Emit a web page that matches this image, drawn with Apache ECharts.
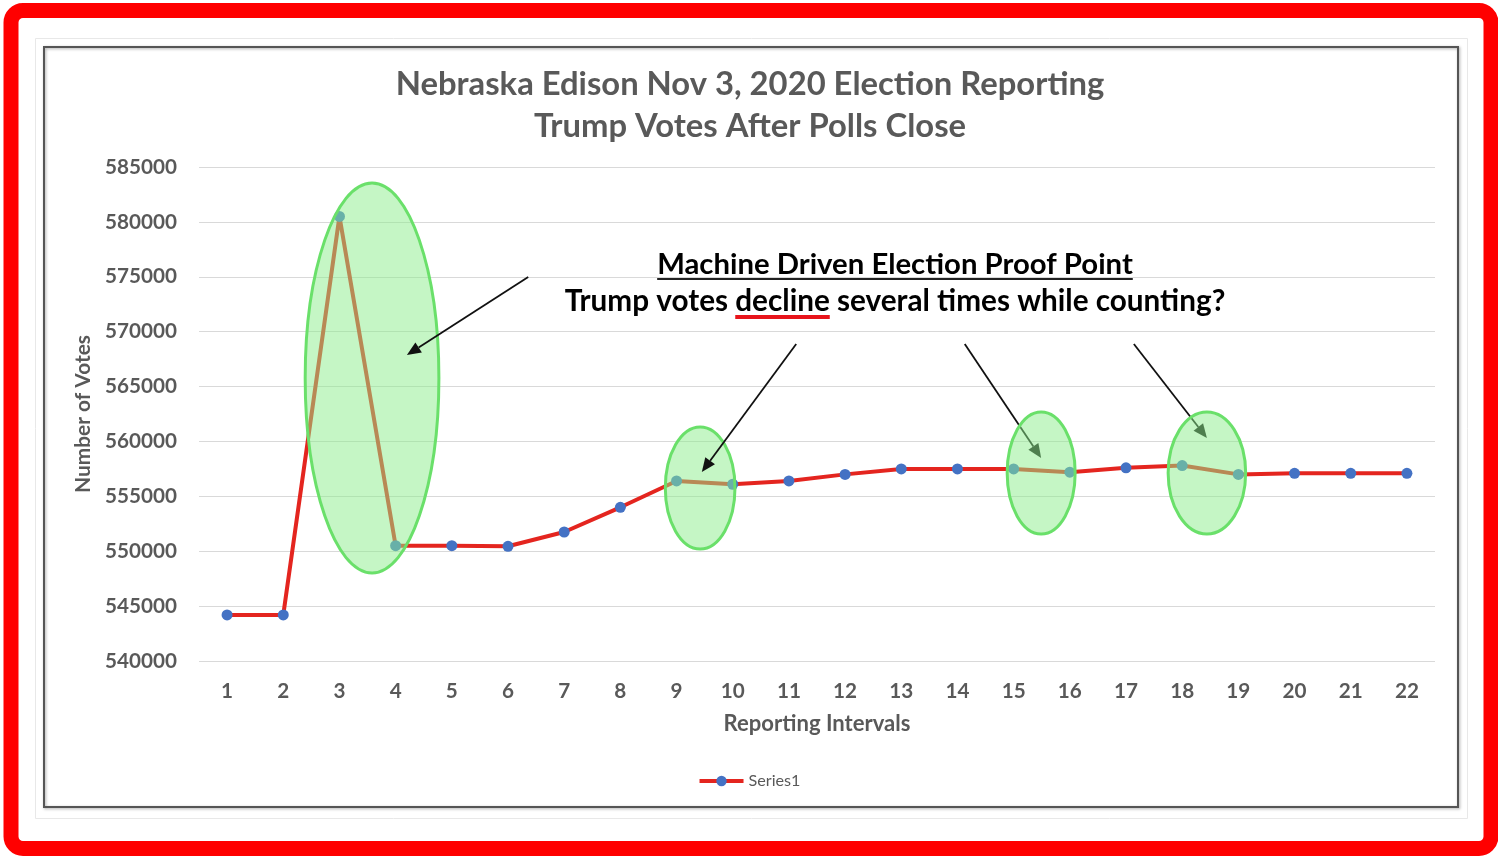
<!DOCTYPE html>
<html>
<head>
<meta charset="utf-8">
<script src="https://cdn.jsdelivr.net/npm/echarts@6/dist/echarts.min.js"></script>
<style>
html,body{margin:0;padding:0;background:#fff;}
#chart{width:1498px;height:859px;}
</style>
</head>
<body>
<div id="chart"></div>
<script>
// ---- data ----
const categories = ['1','2','3','4','5','6','7','8','9','10','11','12','13','14','15','16','17','18','19','20','21','22'];
const votes = [544200,544200,580500,550500,550500,550450,551750,554000,556400,556100,556400,557000,557500,557500,557500,557200,557600,557800,557000,557100,557100,557100];
const yMin = 540000, yMax = 585000, yStep = 5000;
const titleLines = ['Nebraska Edison Nov 3, 2020 Election Reporting', 'Trump Votes After Polls Close'];
const noteLine1 = 'Machine Driven Election Proof Point';
const noteLine2a = 'Trump votes ', noteLine2b = 'decline', noteLine2c = ' several times while counting?';
// annotation ellipses: [category index, value, radius in categories, radius in votes]
const ellipses = [[2.58,565780,1.19,17760],[8.42,555760,0.62,5560],[14.49,557125,0.605,5560],[17.44,557125,0.69,5560]];
// arrows: [from idx, from value, to idx, to value]
const arrows = [[5.36,574980,3.20,567870],[10.13,568880,8.45,557220],[13.13,568880,14.49,558490],[16.14,568880,17.44,560310]];

const FONT = 'Lato';
const cv = document.createElement('canvas').getContext('2d');
function fit(text, weight, target){ cv.font = weight + ' 100px ' + FONT; return 100 * target / cv.measureText(text).width; }
function measure(text, weight, size){ cv.font = weight + ' ' + size + 'px ' + FONT; return cv.measureText(text).width; }

const titleSize = fit(titleLines[0], 'bold', 709);
const yLabSize = fit('585000', 'bold', 72);
const xNameSize = fit('Reporting Intervals', 'bold', 187);
const yNameSize = fit('Number of Votes', 'bold', 158);
const legSize = fit('Series1', 'normal', 52);
const note1Size = fit(noteLine1, 'bold', 476);
const note2Size = fit(noteLine2a + noteLine2b + noteLine2c, 'bold', 661);

const chart = echarts.init(document.getElementById('chart'));
const gray = '#595959';
chart.setOption({
  animation: false,
  backgroundColor: '#fff',
  grid: { left: 199, right: 63, top: 167, bottom: 198 },
  legend: {
    bottom: 65, left: 'center', itemWidth: 44, itemHeight: 13, itemGap: 4,
    textStyle: { fontFamily: FONT, fontSize: legSize, color: gray },
    lineStyle: { width: 4 },
    data: ['Series1']
  },
  xAxis: {
    type: 'category', data: categories, boundaryGap: true,
    name: 'Reporting Intervals', nameLocation: 'middle', nameGap: 52,
    nameTextStyle: { fontFamily: FONT, fontWeight: 'bold', fontSize: xNameSize, color: gray },
    axisLine: { show: false }, axisTick: { show: false },
    axisLabel: { fontFamily: FONT, fontWeight: 'bold', fontSize: yLabSize, color: gray, margin: 20 }
  },
  yAxis: {
    type: 'value', min: yMin, max: yMax, interval: yStep,
    name: 'Number of Votes', nameLocation: 'middle', nameGap: 104,
    nameTextStyle: { fontFamily: FONT, fontWeight: 'bold', fontSize: yNameSize, color: gray },
    axisLine: { show: false }, axisTick: { show: false },
    axisLabel: { fontFamily: FONT, fontWeight: 'bold', fontSize: yLabSize, color: gray, margin: 22, formatter: v => String(v) },
    splitLine: { lineStyle: { color: '#d9d9d9', width: 1 } }
  },
  series: [{
    name: 'Series1', type: 'line', data: votes,
    symbol: 'circle', symbolSize: 11,
    lineStyle: { color: '#e4251f', width: 4 },
    itemStyle: { color: '#4472c4' },
    z: 2
  }]
});

function toPx(idx, val){
  const x0 = chart.convertToPixel({xAxisIndex:0}, 0);
  const x1 = chart.convertToPixel({xAxisIndex:0}, 1);
  return [x0 + (x1 - x0) * idx, chart.convertToPixel({yAxisIndex:0}, val)];
}
function yUnitsPx(dv){ return Math.abs(chart.convertToPixel({yAxisIndex:0}, yMin) - chart.convertToPixel({yAxisIndex:0}, yMin + dv)); }
function xUnitsPx(di){ return Math.abs(chart.convertToPixel({xAxisIndex:0}, 1) - chart.convertToPixel({xAxisIndex:0}, 0)) * di; }

const els = [];
// frames
els.push({ type:'rect', z:0, shape:{x:11,y:10.5,width:1480,height:838,r:12}, style:{fill:null, stroke:'#ff0000', lineWidth:15} });
els.push({ type:'rect', z:0, shape:{x:35.5,y:38.5,width:1432,height:780}, style:{fill:null, stroke:'#e8e8e8', lineWidth:1} });
els.push({ type:'rect', z:0, shape:{x:44,y:47,width:1414,height:760}, style:{fill:null, stroke:'#555', lineWidth:2, shadowBlur:3, shadowColor:'rgba(0,0,0,0.35)', shadowOffsetX:1, shadowOffsetY:1} });

// title
const titleX = 750;
els.push({ type:'text', z:30, style:{ text:titleLines[0], x:titleX, y:84, textAlign:'center', textVerticalAlign:'middle', font:'bold '+titleSize+'px '+FONT, fill:gray } });
els.push({ type:'text', z:30, style:{ text:titleLines[1], x:titleX, y:126, textAlign:'center', textVerticalAlign:'middle', font:'bold '+titleSize+'px '+FONT, fill:gray } });

function arrow(a, z){
  const p = toPx(a[0], a[1]), q = toPx(a[2], a[3]);
  const dx = q[0]-p[0], dy = q[1]-p[1], L = Math.hypot(dx,dy), ux = dx/L, uy = dy/L;
  const hl = 14, hw = 6;
  const bx = q[0]-ux*hl, by = q[1]-uy*hl;
  els.push({ type:'line', z:z, shape:{x1:p[0],y1:p[1],x2:bx,y2:by}, style:{stroke:'#111', lineWidth:1.8} });
  els.push({ type:'polygon', z:z, shape:{points:[[q[0],q[1]],[bx-uy*hw,by+ux*hw],[bx+uy*hw,by-ux*hw]]}, style:{fill:'#111'} });
}
arrow(arrows[2], 5); arrow(arrows[3], 5);
ellipses.forEach(e => {
  const c = toPx(e[0], e[1]);
  els.push({ type:'ellipse', z:10, shape:{cx:c[0], cy:c[1], rx:xUnitsPx(e[2]), ry:yUnitsPx(e[3])},
    style:{ fill:'rgba(140,238,140,0.5)', stroke:'#6ae06a', lineWidth:3 } });
});
arrow(arrows[0], 20); arrow(arrows[1], 20);

// annotation text
const t1 = toPx(11.888, 576072), t2 = toPx(11.888, 572794);
const w1 = measure(noteLine1, 'bold', note1Size);
els.push({ type:'text', z:30, style:{ text:noteLine1, x:t1[0], y:t1[1], textAlign:'center', textVerticalAlign:'middle', font:'bold '+note1Size+'px '+FONT, fill:'#000' } });
els.push({ type:'line', z:30, shape:{x1:t1[0]-w1/2, y1:t1[1]+14, x2:t1[0]+w1/2, y2:t1[1]+14}, style:{stroke:'#222', lineWidth:2} });
const full2 = noteLine2a + noteLine2b + noteLine2c;
const w2 = measure(full2, 'bold', note2Size);
els.push({ type:'text', z:30, style:{ text:full2, x:t2[0], y:t2[1], textAlign:'center', textVerticalAlign:'middle', font:'bold '+note2Size+'px '+FONT, fill:'#000' } });
const ux0 = t2[0] - w2/2 + measure(noteLine2a, 'bold', note2Size);
const uw = measure(noteLine2b, 'bold', note2Size);
els.push({ type:'line', z:30, shape:{x1:ux0, y1:t2[1]+16, x2:ux0+uw, y2:t2[1]+16}, style:{stroke:'#e8141b', lineWidth:4} });

chart.setOption({ graphic: { elements: els } });
</script>
</body>
</html>
